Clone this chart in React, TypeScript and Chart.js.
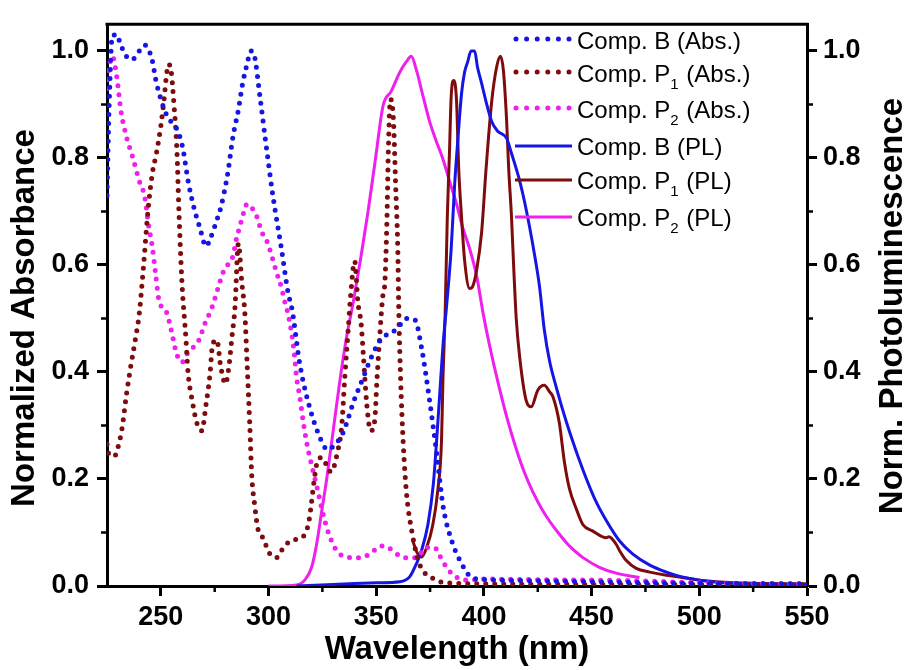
import React, { useEffect, useRef } from "react";
import { Chart, registerables } from "chart.js";

Chart.register(...registerables);

// ---------- axis ticks ----------
const X_TICKS = [250, 300, 350, 400, 450, 500, 550];
const X_MINOR = [275, 325, 375, 425, 475, 525];
const Y_TICKS = [0, 0.2, 0.4, 0.6, 0.8, 1.0];
const Y_MINOR = [0.1, 0.3, 0.5, 0.7, 0.9];
const X_MIN = 225;
const X_MAX = 550;
const Y_MIN = 0;
const Y_MAX = 1.05;

const X_TITLE = "Wavelength (nm)";
const Y_TITLE = "Normalized Absorbance";
const Y2_TITLE = "Norm. Photoluminescence";

const LABELS = [
  "Comp. B (Abs.)",
  "Comp. P\u2081 (Abs.)",
  "Comp. P\u2082 (Abs.)",
  "Comp. B (PL)",
  "Comp. P\u2081 (PL)",
  "Comp. P\u2082 (PL)",
];

// ---------- Comp. B (Abs.) ----------
const B_ABS_X = [225, 226, 227.5, 230, 231, 233, 235, 237, 240, 242.6, 245, 246.2, 247.7, 250, 252.7, 254.7, 257.3, 260, 262.8, 265.5, 268, 271, 273, 276, 278, 281, 283.5, 286, 288, 290, 291.8, 293.5, 296, 299, 302, 306, 309, 311, 314.5, 318, 323, 327.5, 331, 334.5, 340, 344, 348, 352, 355, 359.5, 364, 368, 371, 375, 378, 381, 385, 389.6, 394, 400, 420, 450, 500, 550];
const B_ABS_Y = [0.73, 0.9, 1.029, 1.03, 1.014, 0.999, 0.985, 0.985, 1.0, 1.011, 0.996, 0.979, 0.945, 0.91, 0.88, 0.868, 0.855, 0.822, 0.754, 0.705, 0.671, 0.635, 0.65, 0.684, 0.71, 0.77, 0.84, 0.89, 0.94, 0.975, 1.0, 0.99, 0.915, 0.82, 0.73, 0.63, 0.55, 0.515, 0.415, 0.35, 0.286, 0.255, 0.265, 0.286, 0.35, 0.39, 0.43, 0.46, 0.47, 0.48, 0.5, 0.497, 0.446, 0.34, 0.25, 0.15, 0.085, 0.042, 0.017, 0.012, 0.01, 0.008, 0.005, 0.004];

// ---------- Comp. P1 (Abs.) ----------
const P1_ABS_X = [225, 226, 228.5, 230, 232, 234, 236, 238, 240, 242, 244, 246, 248, 250, 251.5, 252.5, 253.5, 254.7, 256, 257.5, 258.4, 259.8, 261.6, 262.6, 264.4, 266.7, 269, 271, 272.8, 274, 276, 277.8, 280, 281.6, 283, 284.4, 286, 287.6, 289, 290, 291.3, 292.2, 293.6, 295, 297.4, 300.6, 303.8, 306.6, 310, 313.6, 316.4, 318, 319, 320, 321.5, 323, 325, 327, 329, 332, 334, 335.4, 337, 338, 340, 341.5, 343, 344, 345.6, 347.4, 349.3, 350.4, 351.6, 353, 354, 355, 355.6, 356.6, 358, 359, 360, 360.5, 361.3, 362.5, 364, 366.5, 370, 376, 382.6, 400, 450, 500, 550];
const P1_ABS_Y = [0.265, 0.245, 0.243, 0.258, 0.295, 0.357, 0.41, 0.457, 0.51, 0.6, 0.7, 0.77, 0.81, 0.86, 0.91, 0.95, 0.975, 0.965, 0.905, 0.81, 0.7, 0.567, 0.465, 0.4, 0.35, 0.305, 0.29, 0.34, 0.395, 0.45, 0.46, 0.41, 0.378, 0.41, 0.465, 0.52, 0.64, 0.567, 0.51, 0.42, 0.3, 0.207, 0.15, 0.108, 0.09, 0.06, 0.053, 0.07, 0.084, 0.088, 0.094, 0.108, 0.127, 0.158, 0.207, 0.237, 0.24, 0.225, 0.213, 0.25, 0.3, 0.39, 0.48, 0.537, 0.607, 0.53, 0.49, 0.433, 0.34, 0.29, 0.31, 0.39, 0.465, 0.54, 0.567, 0.69, 0.81, 0.91, 0.87, 0.75, 0.63, 0.51, 0.39, 0.27, 0.176, 0.103, 0.042, 0.015, 0.006, 0.004, 0.003, 0.003, 0.003];

// ---------- Comp. P2 (Abs.) ----------
const P2_ABS_X = [225, 226, 227.5, 229.6, 231.4, 234, 236.6, 240, 242.6, 244.2, 246, 247.5, 249, 252.8, 255, 257.4, 259.8, 262, 265, 267.7, 270.4, 273.7, 276.5, 278.8, 281, 283.5, 285, 287, 288.6, 290, 292, 294.6, 296.8, 299, 301.5, 303.8, 306, 307.6, 309, 310.8, 312, 313, 314.5, 316, 318, 320.5, 323, 325, 327.5, 330.7, 334, 340, 343, 347, 352.5, 355.5, 359.5, 363, 369, 373, 377, 380, 383, 387, 392, 400, 420, 450, 470, 500, 550];
const P2_ABS_Y = [0.93, 0.97, 0.99, 0.95, 0.89, 0.84, 0.806, 0.757, 0.726, 0.677, 0.635, 0.586, 0.537, 0.51, 0.475, 0.433, 0.418, 0.433, 0.446, 0.46, 0.49, 0.52, 0.556, 0.585, 0.6, 0.617, 0.647, 0.677, 0.7, 0.714, 0.708, 0.69, 0.662, 0.647, 0.617, 0.585, 0.558, 0.53, 0.51, 0.47, 0.433, 0.39, 0.354, 0.31, 0.262, 0.218, 0.176, 0.14, 0.103, 0.072, 0.057, 0.053, 0.053, 0.06, 0.075, 0.072, 0.06, 0.053, 0.053, 0.072, 0.072, 0.053, 0.033, 0.017, 0.011, 0.013, 0.012, 0.011, 0.01, 0.006, 0.004];

// ---------- Comp. B (PL) ----------
const B_PL_X = [313, 330, 350, 361, 365.5, 368.7, 371, 374, 376.5, 378, 379.5, 381, 382.7, 384.8, 386.4, 388, 389.6, 391, 392.5, 394, 395.7, 397, 398.9, 401, 403.6, 406.4, 410.5, 413, 416.6, 419.8, 422.6, 425.8, 428, 430.5, 433.7, 438.4, 443, 447.6, 452, 457, 463, 469, 477, 484.7, 492, 508, 523, 550];
const B_PL_Y = [0.0, 0.003, 0.006, 0.008, 0.017, 0.042, 0.066, 0.115, 0.19, 0.27, 0.36, 0.45, 0.525, 0.63, 0.75, 0.84, 0.92, 0.96, 0.98, 1.0, 1.0, 0.97, 0.94, 0.905, 0.868, 0.85, 0.837, 0.806, 0.757, 0.7, 0.64, 0.56, 0.48, 0.42, 0.37, 0.305, 0.25, 0.2, 0.158, 0.121, 0.084, 0.06, 0.039, 0.026, 0.017, 0.007, 0.004, 0.003];

// ---------- Comp. P1 (PL) ----------
const P1_PL_X = [367, 369, 371, 373.4, 376.3, 378.5, 380.3, 381, 382, 383, 384, 384.8, 386, 387.3, 388.3, 389.6, 391, 393.4, 394.8, 396.6, 398.9, 401, 403.6, 405.9, 407.7, 409, 410.5, 411.5, 412.8, 413.8, 415, 416.6, 419.6, 422, 425, 428, 430.5, 432, 435, 437.4, 439.7, 442.8, 445.9, 450.4, 456.8, 458, 461.4, 463, 466, 470.7, 477, 484.7, 492, 500, 508, 525, 550];
const P1_PL_Y = [0.084, 0.062, 0.054, 0.072, 0.115, 0.176, 0.27, 0.39, 0.51, 0.69, 0.81, 0.915, 0.945, 0.905, 0.78, 0.69, 0.61, 0.556, 0.56, 0.59, 0.66, 0.78, 0.905, 0.97, 0.99, 0.965, 0.873, 0.78, 0.69, 0.598, 0.5, 0.428, 0.347, 0.335, 0.366, 0.375, 0.363, 0.354, 0.305, 0.231, 0.182, 0.145, 0.115, 0.103, 0.09, 0.092, 0.078, 0.066, 0.048, 0.033, 0.026, 0.02, 0.016, 0.011, 0.008, 0.005, 0.004];

// ---------- Comp. P2 (PL) ----------
const P2_PL_X = [300, 313, 316.8, 320, 322.4, 324.7, 327, 330, 333, 336, 339.3, 342.7, 346.2, 349.7, 353.2, 357, 360.9, 364, 366.3, 368.6, 371.7, 374.8, 378, 380.8, 384, 387.3, 390, 393.4, 396.6, 399.6, 402.6, 407.3, 411, 415, 418.8, 422.7, 426.6, 430.5, 434.4, 438.3, 442, 446, 453.6, 461.4, 472.2];
const P2_PL_Y = [0, 0.002, 0.011, 0.035, 0.08, 0.14, 0.2, 0.29, 0.38, 0.46, 0.53, 0.61, 0.7, 0.8, 0.898, 0.925, 0.96, 0.98, 0.99, 0.965, 0.916, 0.868, 0.83, 0.8, 0.757, 0.714, 0.672, 0.63, 0.58, 0.51, 0.45, 0.368, 0.31, 0.256, 0.212, 0.176, 0.146, 0.121, 0.1, 0.081, 0.066, 0.053, 0.035, 0.024, 0.016];

const BLUE = "#1616E4";
const DARKRED = "#7E0C0C";
const MAGENTA = "#F01EEE";

const FONT = "'Liberation Sans', Arial, Helvetica, sans-serif";
const SUBS: Record<string, string> = {
  "\u2080": "0", "\u2081": "1", "\u2082": "2", "\u2083": "3", "\u2084": "4",
  "\u2085": "5", "\u2086": "6", "\u2087": "7", "\u2088": "8", "\u2089": "9",
};

function zip(xs: number[], ys: number[]) {
  return xs.map((x, i) => ({ x, y: ys[i] }));
}

function drawRich(ctx: CanvasRenderingContext2D, text: string, x: number, baseline: number, size: number) {
  const runs: { t: string; sub: boolean }[] = [];
  for (const ch of text) {
    const sub = ch in SUBS;
    const c = sub ? SUBS[ch] : ch;
    const last = runs[runs.length - 1];
    if (last && last.sub === sub) last.t += c;
    else runs.push({ t: c, sub });
  }
  let cx = x;
  ctx.textAlign = "left";
  ctx.textBaseline = "alphabetic";
  for (const r of runs) {
    const fs = r.sub ? Math.round(size * 0.62) : size;
    ctx.font = `${fs}px ${FONT}`;
    ctx.fillText(r.t, cx, r.sub ? baseline + size * 0.3 : baseline);
    cx += ctx.measureText(r.t).width + (r.sub ? 1 : 0);
  }
}

function drawRotatedTitle(ctx: CanvasRenderingContext2D, text: string, cx: number, cy: number) {
  ctx.save();
  ctx.fillStyle = "#000";
  ctx.font = `bold 33px ${FONT}`;
  ctx.textAlign = "center";
  ctx.textBaseline = "middle";
  ctx.translate(cx, cy);
  ctx.rotate(-Math.PI / 2);
  ctx.fillText(text, 0, 0);
  ctx.restore();
}

const framePlugin = {
  id: "frameAndExtras",
  afterDraw(chart: any) {
    const { ctx, chartArea } = chart;
    const { left, right, top, bottom } = chartArea;
    const xs = chart.scales.x;
    const ys = chart.scales.y;
    const ys2 = chart.scales.y2;
    ctx.save();
    ctx.strokeStyle = "#000";
    ctx.lineWidth = 3;
    ctx.lineCap = "butt";
    ctx.beginPath();
    ctx.moveTo(left - 1.5, top);
    ctx.lineTo(right + 1.5, top);
    ctx.stroke();
    ctx.lineWidth = 2.5;
    ctx.beginPath();
    for (const v of X_MINOR) {
      const p = xs.getPixelForValue(v);
      ctx.moveTo(p, bottom);
      ctx.lineTo(p, bottom + 6);
    }
    for (const v of Y_MINOR) {
      const p = ys.getPixelForValue(v);
      ctx.moveTo(left - 6, p);
      ctx.lineTo(left, p);
      const q = ys2.getPixelForValue(v);
      ctx.moveTo(right, q);
      ctx.lineTo(right + 6, q);
    }
    ctx.stroke();
    ctx.restore();

    // axis titles (both read bottom to top)
    drawRotatedTitle(ctx, Y_TITLE, 25, 318);
    drawRotatedTitle(ctx, Y2_TITLE, 893, 306);

    // legend
    const rowsY = [40, 73, 109, 146, 180, 217];
    const size = 24;
    chart.data.datasets.forEach((ds: any, i: number) => {
      const y = rowsY[i];
      ctx.save();
      ctx.strokeStyle = ds.borderColor;
      if (ds.borderDash && ds.borderDash.length) {
        ctx.lineWidth = 5;
        ctx.lineCap = "round";
        ctx.setLineDash([0, 10.6]);
        ctx.beginPath();
        ctx.moveTo(516, y - 1);
        ctx.lineTo(570, y - 1);
        ctx.stroke();
      } else {
        ctx.lineWidth = 3;
        ctx.lineCap = "butt";
        ctx.setLineDash([]);
        ctx.beginPath();
        ctx.moveTo(515, y);
        ctx.lineTo(572, y);
        ctx.stroke();
      }
      ctx.fillStyle = "#000";
      drawRich(ctx, ds.label, 577, y + size * 0.358, size);
      ctx.restore();
    });
  },
};

export default function App() {
  const ref = useRef<HTMLCanvasElement>(null);

  useEffect(() => {
    document.body.style.margin = "0";
    document.body.style.background = "#fff";
    const canvas = ref.current;
    if (!canvas) return;

    const dotted = {
      borderDash: [0, 9],
      borderWidth: 5,
      borderCapStyle: "round" as const,
      pointRadius: 0,
      fill: false,
      cubicInterpolationMode: "monotone" as const,
    };
    const solid = {
      borderWidth: 3,
      pointRadius: 0,
      fill: false,
      cubicInterpolationMode: "monotone" as const,
      borderJoinStyle: "round" as const,
    };

    const datasets: any[] = [
      { label: LABELS[0], data: zip(B_ABS_X, B_ABS_Y), borderColor: BLUE, backgroundColor: BLUE, yAxisID: "y", ...dotted },
      { label: LABELS[1], data: zip(P1_ABS_X, P1_ABS_Y), borderColor: DARKRED, backgroundColor: DARKRED, yAxisID: "y", ...dotted },
      { label: LABELS[2], data: zip(P2_ABS_X, P2_ABS_Y), borderColor: MAGENTA, backgroundColor: MAGENTA, yAxisID: "y", ...dotted },
      { label: LABELS[3], data: zip(B_PL_X, B_PL_Y), borderColor: BLUE, backgroundColor: BLUE, yAxisID: "y2", ...solid },
      { label: LABELS[4], data: zip(P1_PL_X, P1_PL_Y), borderColor: DARKRED, backgroundColor: DARKRED, yAxisID: "y2", ...solid },
      { label: LABELS[5], data: zip(P2_PL_X, P2_PL_Y), borderColor: MAGENTA, backgroundColor: MAGENTA, yAxisID: "y2", ...solid },
    ];

    const tickFont = { family: FONT, size: 27, weight: "bold" as const };
    const titleFont = { family: FONT, size: 33, weight: "bold" as const };
    const grid = {
      drawOnChartArea: false,
      drawTicks: true,
      tickLength: 10,
      tickWidth: 3,
      tickColor: "#000",
      color: "#000",
    };
    const border = { display: true, color: "#000", width: 3 };
    const yTicksFn = (s: any) => {
      s.ticks = Y_TICKS.map((v) => ({ value: v }));
    };

    const chart = new Chart(canvas, {
      type: "line",
      data: { datasets },
      options: {
        animation: false,
        responsive: false,
        devicePixelRatio: 1,
        layout: { padding: { top: 14, left: 0, right: 0, bottom: 0 } },
        plugins: {
          legend: { display: false },
          tooltip: { enabled: false },
        },
        scales: {
          x: {
            type: "linear",
            min: X_MIN,
            max: X_MAX,
            afterBuildTicks: (s: any) => {
              s.ticks = X_TICKS.map((v) => ({ value: v }));
            },
            afterFit: (s: any) => {
              s.height = 84;
            },
            ticks: {
              font: tickFont,
              color: "#000",
              padding: 5,
              maxRotation: 0,
              autoSkip: false,
              callback: (v: any) => String(v),
            },
            grid,
            border,
            title: {
              display: true,
              text: X_TITLE,
              font: titleFont,
              color: "#000",
              padding: { top: 0, bottom: 0 },
            },
          },
          y: {
            type: "linear",
            position: "left",
            min: Y_MIN,
            max: Y_MAX,
            afterBuildTicks: yTicksFn,
            afterFit: (s: any) => {
              s.width = 107;
            },
            ticks: {
              font: tickFont,
              color: "#000",
              padding: 8,
              autoSkip: false,
              callback: (v: any) => Number(v).toFixed(1),
            },
            grid,
            border,
            title: { display: false },
          },
          y2: {
            type: "linear",
            position: "right",
            min: Y_MIN,
            max: Y_MAX,
            afterBuildTicks: yTicksFn,
            afterFit: (s: any) => {
              s.width = 100;
            },
            ticks: {
              font: tickFont,
              color: "#000",
              padding: 6,
              autoSkip: false,
              callback: (v: any) => Number(v).toFixed(1),
            },
            grid,
            border,
            title: { display: false },
          },
        },
      },
      plugins: [framePlugin],
    });

    return () => chart.destroy();
  }, []);

  return (
    <div style={{ width: 907, height: 670, background: "#fff" }}>
      <canvas ref={ref} width={907} height={670} style={{ display: "block" }} />
    </div>
  );
}
